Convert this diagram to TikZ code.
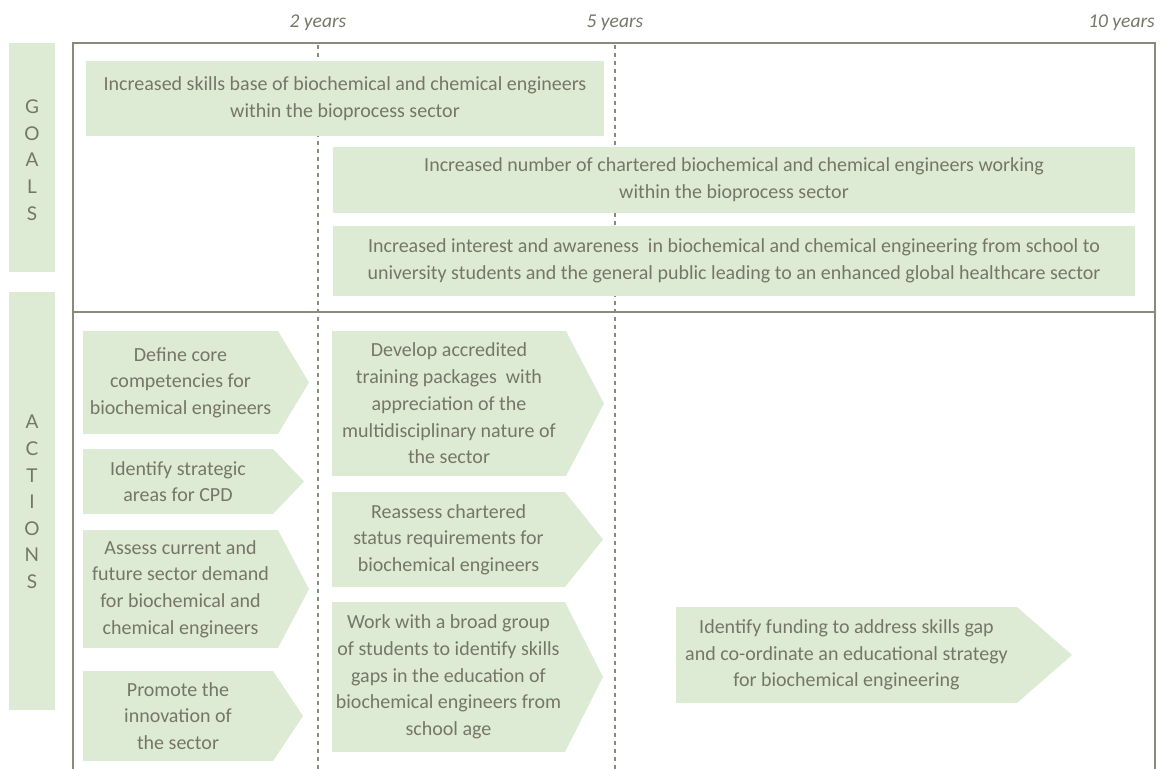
\documentclass[tikz,border=0pt]{standalone}
\usepackage{fontspec}
\setmainfont{Carlito}
\newfontfamily\lettersfont{Lato}
\usetikzlibrary{calc}
\definecolor{boxgreen}{RGB}{221,235,212}
\definecolor{txtgray}{RGB}{118,118,104}
\definecolor{linegray}{RGB}{138,138,124}
\newcommand{\actionbox}[7]{%
  \node[boxtext, minimum width={#4pt-#2pt}, minimum height={#6pt-#3pt}] (#1) at (#2,#3) {#7};
  \fill[boxgreen] (#1.north east) -- ($(#1.east)+(#5-#4,0)$) -- (#1.south east) -- cycle;
}
\begin{document}
\begin{tikzpicture}[x=1pt,y=-1pt,
  boxtext/.style={fill=boxgreen, text=txtgray, inner sep=0pt, outer sep=0pt, align=center,
    font=\fontsize{20}{26.7}\selectfont, anchor=north west},
  sidebar/.style={fill=boxgreen, inner sep=0pt, outer sep=0pt, anchor=north west, minimum width=46pt},
  sideletters/.style={text=txtgray, align=center, inner sep=0pt, font=\lettersfont\fontsize{19}{26.6}\selectfont},
  yearlabel/.style={text=txtgray, inner sep=0pt, font=\fontsize{19.5}{22}\selectfont\itshape},
  framestyle/.style={draw=linegray, line width=1.5pt},
  dashstyle/.style={draw=linegray, line width=1.2pt, dash pattern=on 4pt off 4pt}]
\useasboundingbox (0,0) rectangle (1171,769);

% frame
\draw[framestyle] (73,769) -- (73,43) -- (1155,43) -- (1155,769);
\draw[framestyle] (73,312) -- (1155,312);
% time markers
\draw[dashstyle] (318,45) -- (318,769);
\draw[dashstyle] (615,45) -- (615,769);
\node[yearlabel] (y2) at (318,23) {2 years};
\node[yearlabel] (y5) at (615,23) {5 years};
\node[yearlabel, anchor=east] (y10) at (1155,23) {10 years};

% side bars
\node[sidebar, minimum height=229pt] (goalsbar) at (9,43) {};
\node[sideletters] (goalsl) at (32,160) {G\\O\\A\\L\\S};
\node[sidebar, minimum height=418pt] (actbar) at (9,292) {};
\node[sideletters] (actl) at (32,502) {A\\C\\T\\I\\O\\N\\S};

% goals
\node[boxtext, minimum width=518pt, minimum height=75pt] (g1) at (86,61)
  {Increased skills base of biochemical and chemical engineers\\within the bioprocess sector};
\node[boxtext, minimum width=802pt, minimum height=66pt] (g2) at (333,147)
  {Increased number of chartered biochemical and chemical engineers working\\within the bioprocess sector};
\node[boxtext, minimum width=802pt, minimum height=70pt] (g3) at (333,226)
  {Increased interest and awareness\ \ in biochemical and chemical engineering from school to\\university students and the general public leading to an enhanced global healthcare sector};

% actions
\actionbox{a1}{83}{331}{278}{309}{434}{Define core\\competencies for\\biochemical engineers}
\actionbox{a2}{83}{449}{273}{304}{514}{Identify strategic\\areas for CPD}
\actionbox{a3}{83}{530}{278}{309}{648}{Assess current and\\future sector demand\\for biochemical and\\chemical engineers}
\actionbox{a4}{83}{671}{273}{303}{761}{Promote the\\innovation of\\the sector}
\actionbox{a5}{332}{331}{566}{604}{476}{Develop accredited\\training packages\ \ with\\appreciation of the\\multidisciplinary nature of\\the sector}
\actionbox{a6}{332}{492}{565}{603}{587}{Reassess chartered\\status requirements for\\biochemical engineers}
\actionbox{a7}{332}{602}{565}{603}{752}{Work with a broad group\\of students to identify skills\\gaps in the education of\\biochemical engineers from\\school age}
\actionbox{a8}{676}{607}{1017}{1072}{703}{Identify funding to address skills gap\\and co-ordinate an educational strategy\\for biochemical engineering}
\end{tikzpicture}
\end{document}
